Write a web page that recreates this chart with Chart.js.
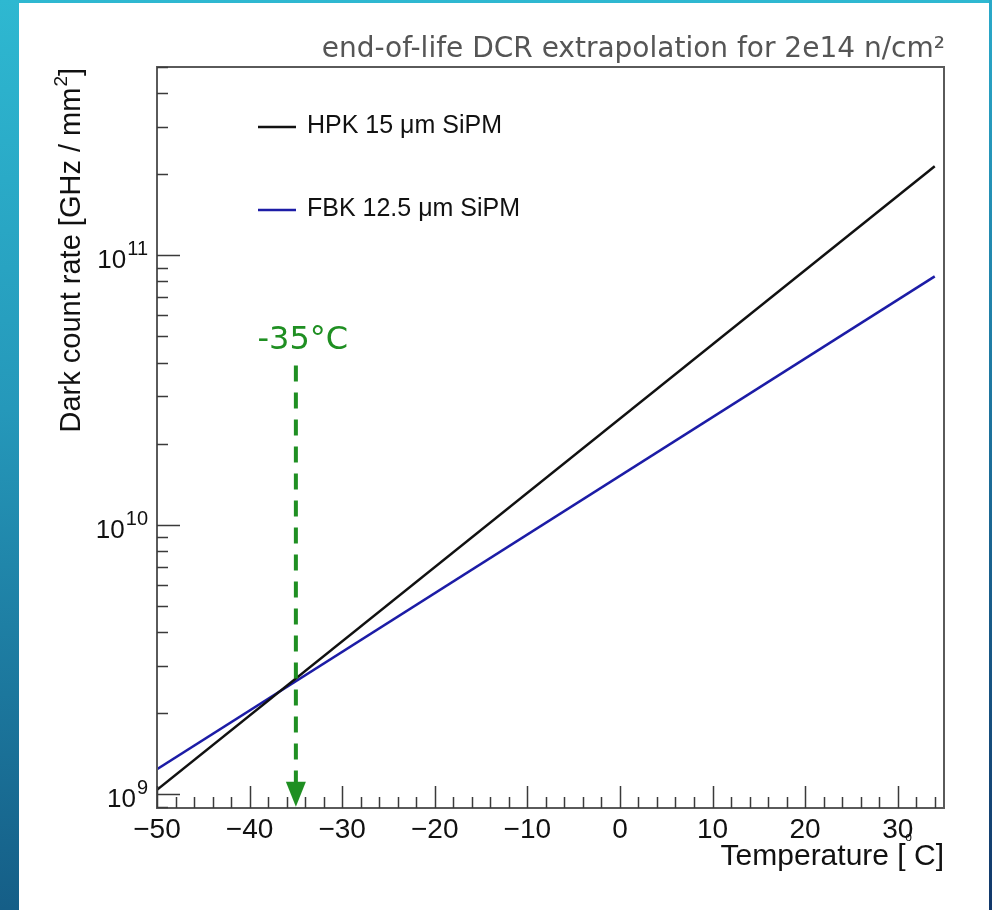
<!DOCTYPE html>
<html lang="en">
<head>
<meta charset="UTF-8">
<title>end-of-life DCR extrapolation</title>
<script src="https://cdn.jsdelivr.net/npm/chart.js@4.4.1/dist/chart.umd.min.js"></script>
<style>
    html, body { margin: 0; padding: 0; }
    body {
        width: 992px; height: 910px; overflow: hidden; position: relative;
        background: linear-gradient(to bottom, #2eb8d1 0%, #2598ba 45%, #155e87 100%);
    }
    .panel { position: absolute; left: 19px; top: 3px; width: 970px; height: 907px; background: #fff; }
    .edge {
        position: absolute; left: 989px; top: 0; width: 3px; height: 910px;
        background: linear-gradient(to bottom, #2aa9c9 0%, #1c6f9a 50%, #12386a 100%);
    }
    #wrap { position: absolute; left: 0; top: 0; width: 992px; height: 910px; }
</style>
</head>
<body>
<div class="panel"></div>
<div class="edge"></div>
<div id="wrap"><canvas id="dcr" width="992" height="910"></canvas></div>

<script>
// values
const temps = [-50, 34];
const hpkRate = [1.04e9, 2.14e11];
const fbkRate = [1.24e9, 8.36e10];
const seriesLabels = ['HPK 15 \u03bcm SiPM', 'FBK 12.5 \u03bcm SiPM'];
const seriesColors = ['#111111', '#1c1ca6'];
const xTickLabels = [-50, -40, -30, -20, -10, 0, 10, 20, 30];
const yDecades = [1e9, 1e10, 1e11];
const arrowTemp = -35;
const arrowFrom = 3.9e10;
const arrowTo = 9.0e8;

const green = '#1f8f22';
const helv = '"Liberation Sans", Arial, sans-serif';
const dejavu = '"DejaVu Sans", sans-serif';

// ROOT-style frame, ticks, labels, legend and annotation
const rootStyle = {
    id: 'rootStyle',
    afterDatasetsDraw(chart) {
        const { ctx, chartArea: a, scales: { x, y } } = chart;
        ctx.save();

        // frame
        ctx.strokeStyle = '#5a5a5a';
        ctx.lineWidth = 2;
        ctx.strokeRect(a.left, a.top, a.right - a.left, a.bottom - a.top);

        // x ticks (inside, every 2, major every 10)
        ctx.strokeStyle = '#3a3a3a';
        ctx.lineWidth = 1.5;
        ctx.beginPath();
        for (let v = -50; v <= x.max; v += 2) {
            const px = Math.round(x.getPixelForValue(v)) + 0.5;
            const len = v % 10 === 0 ? 22 : 11;
            ctx.moveTo(px, a.bottom);
            ctx.lineTo(px, a.bottom - len);
        }
        // y ticks (log, minor at 2..9)
        for (let e = 8; e <= 11; e++) {
            for (let k = 1; k <= 9; k++) {
                const v = k * Math.pow(10, e);
                if (v < y.min || v > y.max) continue;
                const py = Math.round(y.getPixelForValue(v)) + 0.5;
                const len = k === 1 ? 23 : 11;
                ctx.moveTo(a.left, py);
                ctx.lineTo(a.left + len, py);
            }
        }
        ctx.stroke();

        // x tick labels
        ctx.fillStyle = '#111';
        ctx.font = '28px ' + helv;
        ctx.textAlign = 'center';
        ctx.textBaseline = 'alphabetic';
        xTickLabels.forEach(v => {
            const txt = v < 0 ? '\u2212' + Math.abs(v) : String(v);
            ctx.fillText(txt, x.getPixelForValue(v), a.bottom + 30);
        });
        // stray degree mark beside 30
        ctx.font = '12px ' + helv;
        ctx.fillText('o', x.getPixelForValue(30) + 11, a.bottom + 33);

        // y tick labels 10^n
        yDecades.forEach(v => {
            const py = y.getPixelForValue(v);
            const ex = String(Math.round(Math.log10(v)));
            const right = a.left - 9;
            ctx.textAlign = 'right';
            ctx.font = '20px ' + helv;
            const w = ctx.measureText(ex).width;
            ctx.fillText(ex, right, py);
            ctx.font = '26px ' + helv;
            ctx.fillText('10', right - w - 1, py + 13);
        });

        // axis titles
        ctx.font = '30px ' + helv;
        ctx.textAlign = 'right';
        ctx.fillText('Temperature [ C]', a.right, a.bottom + 57);

        ctx.save();
        ctx.translate(80, a.top + 1);
        ctx.rotate(-Math.PI / 2);
        ctx.textAlign = 'left';
        const big = '29px ' + helv;
        const small = '19px ' + helv;
        const tail = ']';
        const sup = '2';
        const head = 'Dark count rate [GHz / mm';
        ctx.font = big;
        const wTail = ctx.measureText(tail).width;
        const wHead = ctx.measureText(head).width;
        ctx.font = small;
        const wSup = ctx.measureText(sup).width;
        const x0 = -(wHead + wSup + wTail + 1);
        ctx.font = big;
        ctx.fillText(head, x0, 0);
        ctx.fillText(tail, x0 + wHead + wSup + 1, 0);
        ctx.font = small;
        ctx.fillText(sup, x0 + wHead + 1, -13);
        ctx.restore();

        // title
        ctx.fillStyle = '#555';
        ctx.font = '28px ' + dejavu;
        ctx.textAlign = 'right';
        ctx.fillText('end-of-life DCR extrapolation for 2e14 n/cm\u00b2', a.right + 1, 57);

        // legend
        const legY = [127, 210];
        chart.data.datasets.forEach((ds, i) => {
            ctx.strokeStyle = ds.borderColor;
            ctx.lineWidth = 2.5;
            ctx.beginPath();
            ctx.moveTo(258, legY[i]);
            ctx.lineTo(296, legY[i]);
            ctx.stroke();
            ctx.fillStyle = '#111';
            ctx.font = '25px ' + helv;
            ctx.textAlign = 'left';
            ctx.textBaseline = 'middle';
            ctx.fillText(ds.label, 307, legY[i] - 1);
        });
        ctx.textBaseline = 'alphabetic';

        // -35 C arrow
        const ax = x.getPixelForValue(arrowTemp);
        const yTop = y.getPixelForValue(arrowFrom);
        const yTip = y.getPixelForValue(arrowTo);
        ctx.strokeStyle = green;
        ctx.fillStyle = green;
        ctx.lineWidth = 4;
        ctx.setLineDash([16, 11]);
        ctx.beginPath();
        ctx.moveTo(ax, yTop);
        ctx.lineTo(ax, yTip - 22);
        ctx.stroke();
        ctx.setLineDash([]);
        ctx.beginPath();
        ctx.moveTo(ax - 10, yTip - 25);
        ctx.lineTo(ax + 10, yTip - 25);
        ctx.lineTo(ax, yTip);
        ctx.closePath();
        ctx.fill();
        ctx.font = '32px ' + dejavu;
        ctx.textAlign = 'center';
        ctx.fillText('-35\u00b0C', ax + 7, yTop - 17);

        ctx.restore();
    }
};

new Chart(document.getElementById('dcr'), {
    type: 'line',
    data: {
        datasets: [
            {
                label: seriesLabels[0],
                data: temps.map((t, i) => ({ x: t, y: hpkRate[i] })),
                borderColor: seriesColors[0],
                borderWidth: 2.5,
                pointRadius: 0,
                fill: false
            },
            {
                label: seriesLabels[1],
                data: temps.map((t, i) => ({ x: t, y: fbkRate[i] })),
                borderColor: seriesColors[1],
                borderWidth: 2.5,
                pointRadius: 0,
                fill: false
            }
        ]
    },
    options: {
        responsive: false,
        animation: false,
        devicePixelRatio: 1,
        layout: { padding: { left: 157, top: 67, right: 48, bottom: 102 } },
        plugins: { legend: { display: false }, tooltip: { enabled: false } },
        scales: {
            x: { type: 'linear', min: -50, max: 35, display: false },
            y: { type: 'logarithmic', min: 8.9e8, max: 5e11, display: false }
        }
    },
    plugins: [rootStyle]
});
</script>
</body>
</html>
